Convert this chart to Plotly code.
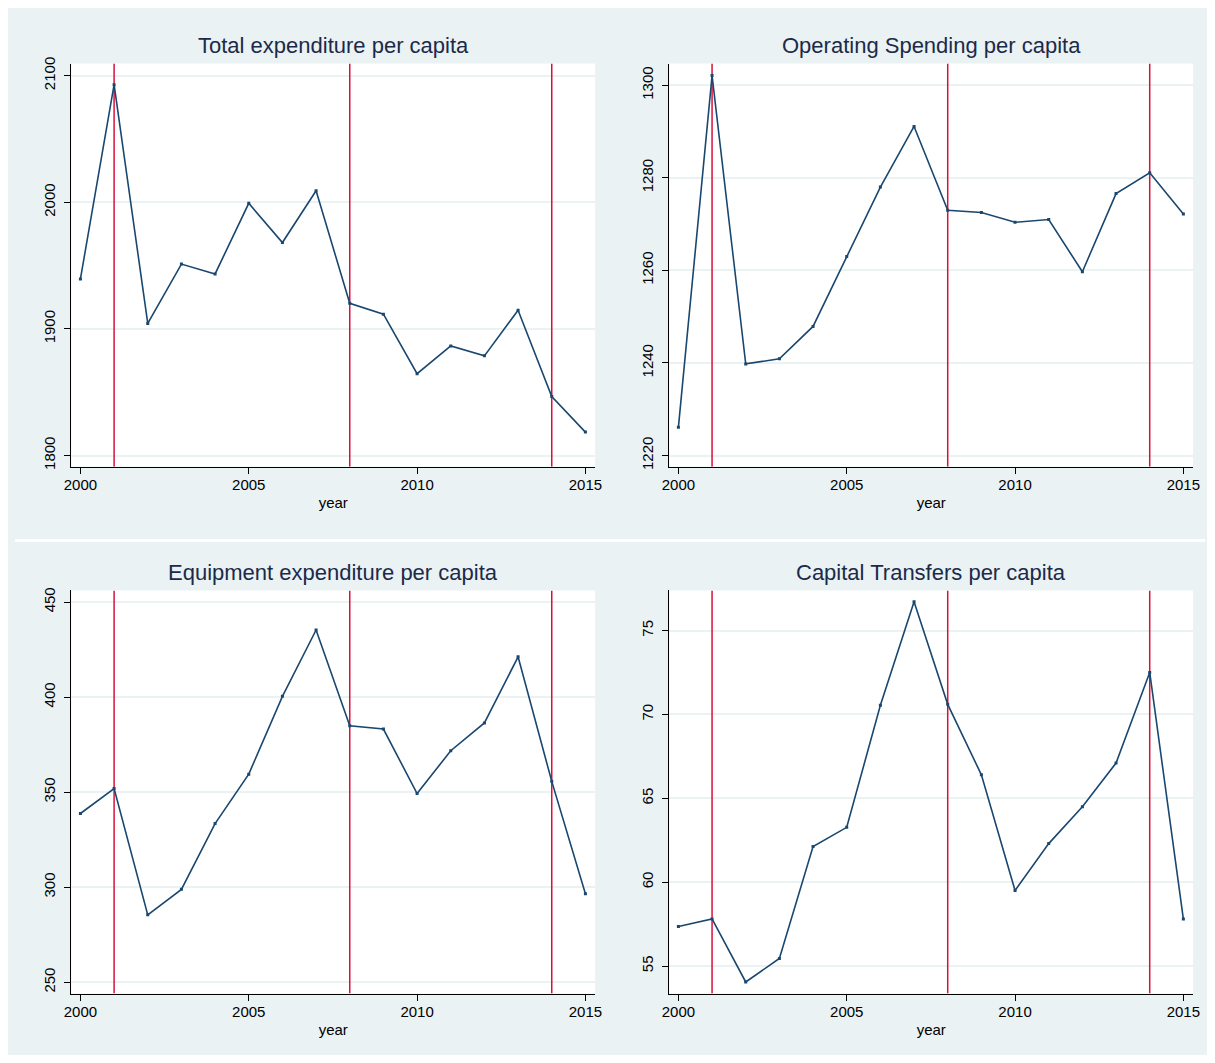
import plotly.graph_objects as go

# ---------------- data ----------------
years = list(range(2000, 2016))
total_expenditure = [1939.5, 2092.9, 1904.3, 1951.2, 1943.4, 1999.2, 1968.2, 2009.1,
                     1920.2, 1911.6, 1864.6, 1886.5, 1878.7, 1914.7, 1846.6, 1818.5]
operating_spending = [1226.1, 1302.1, 1239.8, 1240.9, 1247.9, 1263.0, 1278.0, 1291.1,
                      1273.0, 1272.5, 1270.4, 1271.0, 1259.7, 1276.6, 1281.1, 1272.2]
equipment_expenditure = [338.8, 351.9, 285.5, 298.9, 333.5, 359.5, 400.4, 435.3,
                         384.9, 383.2, 349.3, 371.8, 386.4, 421.2, 355.7, 296.6]
capital_transfers = [57.36, 57.81, 54.05, 55.45, 62.12, 63.27, 70.55, 76.71,
                     70.6, 66.4, 59.5, 62.3, 64.5, 67.1, 72.5, 57.8]
break_years = [2001, 2008, 2014]
panel_titles = ["Total expenditure per capita", "Operating Spending per capita",
                "Equipment expenditure per capita", "Capital Transfers per capita"]
x_ticks = [2000, 2005, 2010, 2015]
y_ticks_total = [1800, 1900, 2000, 2100]
y_ticks_operating = [1220, 1240, 1260, 1280, 1300]
y_ticks_equipment = [250, 300, 350, 400, 450]
y_ticks_capital = [55, 60, 65, 70, 75]
x_label = "year"

# ---------------- layout helpers ----------------
PAGE_MARGIN = 8            # default body margin of the html page
W, H = 1212 - PAGE_MARGIN, 1063 - 2 * PAGE_MARGIN
BG = "#EAF2F3"
NAVY = "#1A476F"
RED = "#DC0F3C"
TITLE_C = "#1C2A4A"
FONT = "Liberation Sans, Arial, sans-serif"

def fx(p):
    return (p - PAGE_MARGIN) / W

def fy(p):
    return 1 - (p - PAGE_MARGIN) / H

panels = [
    dict(series=total_expenditure, ticks=y_ticks_total, yr=[1791.2, 2109.6],
         box=(65, 595, 57, 464), title=panel_titles[0]),
    dict(series=operating_spending, ticks=y_ticks_operating, yr=[1217.6, 1304.7],
         box=(670, 1200, 57, 464), title=panel_titles[1]),
    dict(series=equipment_expenditure, ticks=y_ticks_equipment, yr=[244.1, 456.1],
         box=(65, 595, 589, 996), title=panel_titles[2]),
    dict(series=capital_transfers, ticks=y_ticks_capital, yr=[53.36, 77.39],
         box=(670, 1200, 589, 996), title=panel_titles[3]),
]

fig = go.Figure()
shapes = []
annotations = []
layout_axes = {}

for i, p in enumerate(panels, start=1):
    xa = "x" if i == 1 else f"x{i}"
    ya = "y" if i == 1 else f"y{i}"
    x0, x1, y0, y1 = p["box"]
    lo, hi = p["yr"]
    # vertical reference lines at the break years (drawn under the series)
    bx, byv = [], []
    for by in break_years:
        bx += [by, by, None]
        byv += [lo, hi, None]
    fig.add_trace(go.Scatter(
        x=bx, y=byv, xaxis=xa, yaxis=ya, mode="lines",
        line=dict(color=RED, width=1.5), showlegend=False, hoverinfo="skip"))
    fig.add_trace(go.Scatter(
        x=years, y=p["series"], xaxis=xa, yaxis=ya, mode="lines+markers",
        line=dict(color=NAVY, width=1.6),
        marker=dict(symbol="square", size=3, color=NAVY),
        showlegend=False, hoverinfo="x+y"))
    xkey = "xaxis" if i == 1 else f"xaxis{i}"
    ykey = "yaxis" if i == 1 else f"yaxis{i}"
    layout_axes[xkey] = dict(
        domain=[fx(x0), fx(x1)], anchor=ya, range=[1999.73, 2015.29],
        tickmode="array", tickvals=x_ticks, ticktext=[str(t) for t in x_ticks],
        ticks="outside", ticklen=6, tickwidth=1, tickcolor="black",
        ticklabelstandoff=-2,
        showline=True, linecolor="black", linewidth=1,
        showgrid=False, zeroline=False,
        tickfont=dict(family=FONT, size=15, color="black"),
        title=dict(text=x_label, font=dict(family=FONT, size=15, color="black"),
                   standoff=5),
    )
    layout_axes[ykey] = dict(
        domain=[fy(y1), fy(y0)], anchor=xa, range=[lo, hi],
        tickmode="array", tickvals=p["ticks"], ticktext=[str(t) for t in p["ticks"]],
        ticks="outside", ticklen=6, tickwidth=1, tickcolor="black", tickangle=-90,
        ticklabelstandoff=3,
        showline=True, linecolor="black", linewidth=1,
        showgrid=True, gridcolor=BG, gridwidth=2, zeroline=False,
        tickfont=dict(family=FONT, size=15, color="black"),
    )
    annotations.append(dict(text=p["title"], xref="paper", yref="paper",
                            x=fx((x0 + x1) / 2), y=fy(y0 - 18), xanchor="center",
                            yanchor="middle", showarrow=False,
                            font=dict(family=FONT, size=22, color=TITLE_C)))

# white separator between the two rows of the combined graph
shapes.append(dict(type="rect", xref="paper", yref="paper",
                   x0=0, x1=1, y0=fy(540), y1=fy(537),
                   fillcolor="white", line=dict(width=0), layer="above"))

fig.update_layout(
    width=W, height=H, autosize=False,
    margin=dict(l=0, r=0, t=0, b=0),
    paper_bgcolor=BG, plot_bgcolor="white",
    shapes=shapes, annotations=annotations,
    font=dict(family=FONT),
    **layout_axes,
)

fig.write_html("out.html", config={"displayModeBar": False})
